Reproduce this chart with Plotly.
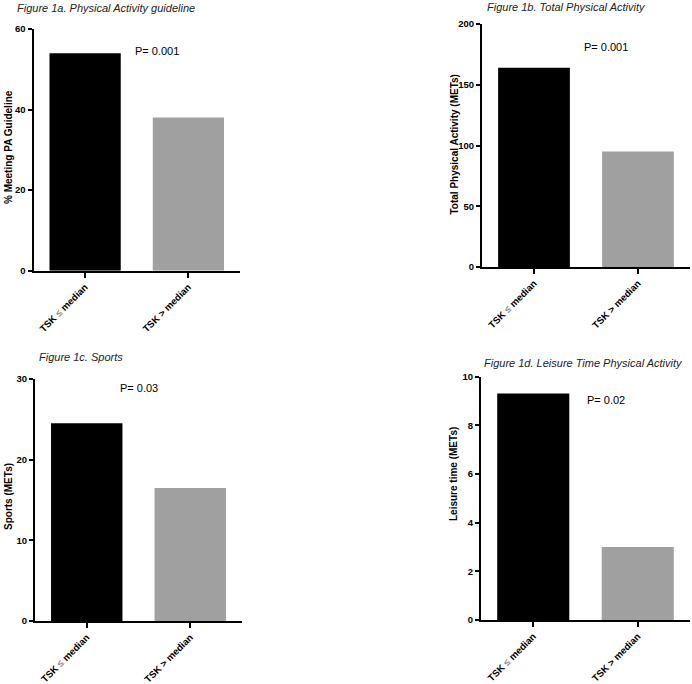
import plotly.graph_objects as go

W, H = 692, 684

categories = ["TSK ≤ median", "TSK > median"]
tick_labels = ['TSK <span style="color:#8c8c8c">≤</span> median', "TSK > median"]

titles = ["Figure 1a. Physical Activity guideline",
          "Figure 1b. Total Physical Activity",
          "Figure 1c. Sports",
          "Figure 1d. Leisure Time Physical Activity"]
y_titles = ["% Meeting PA Guideline", "Total Physical Activity (METs)",
            "Sports (METs)", "Leisure time (METs)"]
p_values = ["P= 0.001", "P= 0.001", "P= 0.03", "P= 0.02"]

pa_guideline = [54, 38]
total_pa = [164, 95]
sports = [24.5, 16.5]
leisure = [9.3, 3.0]

y_ranges = [[0, 60], [0, 200], [0, 30], [0, 10]]
y_dticks = [20, 50, 10, 2]

series = [pa_guideline, total_pa, sports, leisure]

# plot areas in pixels: (x0, x1, ytop, ybottom)
boxes = [(33.5, 240, 29, 270.7),
         (482, 690, 24, 267),
         (35, 242, 379, 621),
         (481, 690, 376.5, 620)]
title_pos = [(15, 8), (485, 7), (37, 357), (482, 363)]
ytitle_pos = [(8, 147), (453.5, 145), (8, 497), (453, 474)]
p_pos = [(156.5, 51), (605.5, 47), (139, 388), (606, 400)]

colors = ["#000000", "#a0a0a0"]

fig = go.Figure()
layout = dict(width=W, height=H, margin=dict(l=0, r=0, t=0, b=0, autoexpand=False),
              paper_bgcolor="white", plot_bgcolor="white", showlegend=False,
              font=dict(family="Arial, Liberation Sans, sans-serif", color="black"),
              bargap=0.31)
annotations = []

def px2x(px):
    return px / W

def px2y(py):
    return 1 - py / H

for i, vals in enumerate(series):
    n = "" if i == 0 else str(i + 1)
    fig.add_trace(go.Bar(x=categories, y=vals, xaxis="x" + n, yaxis="y" + n,
                         marker=dict(color=colors, line=dict(width=0)),
                         width=0.69))
    x0, x1, yt, yb = boxes[i]
    layout["xaxis" + n] = dict(
        domain=[px2x(x0), px2x(x1)], anchor="y" + n, automargin=False,
        range=[-0.5, 1.5], tickmode="array", tickvals=categories, ticktext=tick_labels,
        tickangle=-45, ticks="outside", ticklen=5, tickwidth=2, tickcolor="black",
        showline=True, linecolor="black", linewidth=2, showgrid=False, zeroline=False,
        tickfont=dict(size=9.6, weight="bold", color="black"))
    layout["yaxis" + n] = dict(
        domain=[px2y(yb), px2y(yt)], anchor="x" + n, automargin=False,
        range=y_ranges[i], dtick=y_dticks[i], tick0=0,
        ticks="outside", ticklen=4, tickwidth=1.5, tickcolor="black",
        showline=True, linecolor="black", linewidth=2, showgrid=False, zeroline=False,
        tickfont=dict(size=9.5, weight="bold", color="black"))
    tx, ty = title_pos[i]
    annotations.append(dict(text=titles[i], x=px2x(tx), y=px2y(ty), xref="paper", yref="paper",
                            xanchor="left", yanchor="middle", showarrow=False,
                            font=dict(size=11, style="italic", color="#222")))
    yx, yy = ytitle_pos[i]
    annotations.append(dict(text=y_titles[i], x=px2x(yx), y=px2y(yy), xref="paper", yref="paper",
                            xanchor="center", yanchor="middle", showarrow=False, textangle=-90,
                            font=dict(size=10, weight="bold", color="black")))
    px_, py_ = p_pos[i]
    annotations.append(dict(text=p_values[i], x=px2x(px_), y=px2y(py_), xref="paper", yref="paper",
                            xanchor="center", yanchor="middle", showarrow=False,
                            font=dict(size=11, color="black")))

layout["annotations"] = annotations
fig.update_layout(**layout)
fig.write_html("out.html", config={"displayModeBar": False},
               post_script="document.body.style.margin='0px';document.body.style.overflow='hidden';")
